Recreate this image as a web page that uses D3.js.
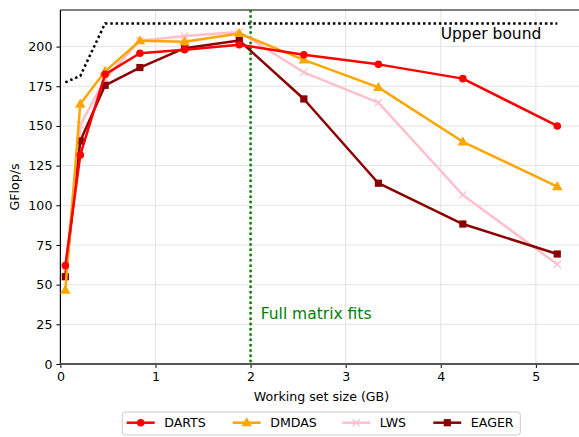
<!DOCTYPE html>
<html><head><meta charset="utf-8">
<script src="https://cdn.jsdelivr.net/npm/d3@7"></script>
<style>
body{margin:0;background:#fff;}
text{font-family:"DejaVu Sans",sans-serif;}
</style></head><body>
<svg id="c" width="579" height="437"></svg>
<script>
const sizesGB = [0.052, 0.209, 0.470, 0.836, 1.306, 1.881, 2.560, 3.344, 4.232, 5.225];
const darts = [62, 131.7, 182.5, 195.8, 198, 201.2, 194.8, 188.8, 179.8, 150];
const dmdas = [46.5, 163.8, 184.4, 203.7, 203, 208.3, 191.6, 174.3, 140, 111.8];
const lws   = [58, 150.5, 179.5, 203.7, 206.7, 209.2, 183.8, 164.7, 106.5, 62.8];
const eager = [55, 140.5, 175.6, 186.8, 199, 203.8, 167, 113.9, 88.2, 69.3];
const upperBound = [177.5, 181.5, 214.6, 214.6, 214.6, 214.6, 214.6, 214.6, 214.6, 214.6];
const xTicks = [0, 1, 2, 3, 4, 5];
const yTicks = [0, 25, 50, 75, 100, 125, 150, 175, 200];
const fitsAt = 2;
const seriesNames = ["DARTS", "DMDAS", "LWS", "EAGER"];

const series = [
  {name: seriesNames[0], vals: darts, color: "#ff0000", marker: "circle"},
  {name: seriesNames[1], vals: dmdas, color: "#ffa500", marker: "triangle"},
  {name: seriesNames[2], vals: lws,   color: "#ffc0cb", marker: "x"},
  {name: seriesNames[3], vals: eager, color: "#8b0000", marker: "square"}
];
const drawOrder = [2, 3, 1, 0];

const svg = d3.select("#c");
const L = 60.4, T = 10, B = 364;
const x = d3.scaleLinear().domain([0, 5.484]).range([L, 581.9]);
const y = d3.scaleLinear().domain([0, 223.05]).range([B, T]);
const FS = 12.6;

// grid
const g = svg.append("g");
g.selectAll(".gx").data(xTicks).enter().append("line")
  .attr("x1", d => x(d)).attr("x2", d => x(d)).attr("y1", T).attr("y2", B)
  .attr("stroke", "#e3e3e3").attr("stroke-width", 1);
g.selectAll(".gy").data(yTicks).enter().append("line")
  .attr("x1", L).attr("x2", 582).attr("y1", d => y(d)).attr("y2", d => y(d))
  .attr("stroke", "#e3e3e3").attr("stroke-width", 1);

// axes
const xAxis = d3.axisBottom(x).tickValues(xTicks).tickFormat(d3.format("d")).tickSize(4).tickPadding(4);
const yAxis = d3.axisLeft(y).tickValues(yTicks).tickFormat(d3.format("d")).tickSize(4).tickPadding(4);
const gx = svg.append("g").attr("transform", `translate(0,${B})`).call(xAxis);
const gy = svg.append("g").attr("transform", `translate(${L},0)`).call(yAxis);
[gx, gy].forEach(a => {
  a.select(".domain").remove();
  a.selectAll("text").attr("font-size", FS).attr("fill", "#000").attr("font-family", "DejaVu Sans");
  a.selectAll("line").attr("stroke", "#000");
});
// spines
svg.append("line").attr("x1", L).attr("x2", L).attr("y1", T).attr("y2", B).attr("stroke", "#000").attr("stroke-width", 1.2);
svg.append("line").attr("x1", L).attr("x2", 582).attr("y1", T).attr("y2", T).attr("stroke", "#000").attr("stroke-width", 1.2);
svg.append("line").attr("x1", L).attr("x2", 582).attr("y1", B).attr("y2", B).attr("stroke", "#555").attr("stroke-width", 2);

// upper bound
const line = d3.line().x((d, i) => x(sizesGB[i])).y(d => y(d));
svg.append("path").datum(upperBound).attr("d", line).attr("fill", "none")
  .attr("stroke", "#000").attr("stroke-width", 2.5).attr("stroke-dasharray", "2.5,2.8");
svg.append("text").attr("x", 440.7).attr("y", 38.5).attr("font-size", 15.5).attr("fill", "#000").text("Upper bound");

// fits line
svg.append("line").attr("x1", x(fitsAt)).attr("x2", x(fitsAt)).attr("y1", T).attr("y2", B)
  .attr("stroke", "#008000").attr("stroke-width", 2.5).attr("stroke-dasharray", "2.5,2.8");
svg.append("text").attr("x", 260.7).attr("y", 319.3).attr("font-size", 15.5).attr("fill", "#008000").text("Full matrix fits");

function drawMarker(sel, type, color, cx, cy) {
  if (type === "circle") {
    sel.append("circle").attr("cx", cx).attr("cy", cy).attr("r", 3.8).attr("fill", color);
  } else if (type === "square") {
    sel.append("rect").attr("x", cx - 3.6).attr("y", cy - 3.6).attr("width", 7.2).attr("height", 7.2).attr("fill", color);
  } else if (type === "triangle") {
    const s = d3.symbol().type(d3.symbolTriangle).size(48);
    sel.append("path").attr("d", s()).attr("transform", `translate(${cx},${cy + 0.6})`).attr("fill", color);
  } else if (type === "x") {
    const r = 3.6;
    sel.append("path").attr("d", `M${cx - r},${cy - r}L${cx + r},${cy + r}M${cx - r},${cy + r}L${cx + r},${cy - r}`)
      .attr("stroke", color).attr("stroke-width", 1.3).attr("fill", "none");
  }
}

drawOrder.forEach(k => {
  const s = series[k];
  const gs = svg.append("g");
  gs.append("path").datum(s.vals).attr("d", line).attr("fill", "none")
    .attr("stroke", s.color).attr("stroke-width", 2.5).attr("stroke-linejoin", "round");
  s.vals.forEach((v, i) => drawMarker(gs, s.marker, s.color, x(sizesGB[i]), y(v)));
});

// axis labels
svg.append("text").attr("x", 321.5).attr("y", 400.5).attr("text-anchor", "middle").attr("font-size", FS).text("Working set size (GB)");
svg.append("text").attr("transform", "translate(18.5,187) rotate(-90)").attr("text-anchor", "middle").attr("font-size", FS).text("GFlop/s");

// legend
const lg = svg.append("g");
lg.append("rect").attr("x", 122.3).attr("y", 412).attr("width", 398).attr("height", 23).attr("rx", 3)
  .attr("fill", "#fff").attr("fill-opacity", 0.8).attr("stroke", "#ccc").attr("stroke-width", 1);
const legendX = [126.7, 232.7, 342.3, 433.3];
series.forEach((s, i) => {
  const lx = legendX[i], ly = 422.7;
  lg.append("line").attr("x1", lx).attr("x2", lx + 28).attr("y1", ly).attr("y2", ly).attr("stroke", s.color).attr("stroke-width", 2.5);
  drawMarker(lg, s.marker, s.color, lx + 14, ly);
  lg.append("text").attr("x", lx + 37.5).attr("y", ly + 4.5).attr("font-size", FS).text(s.name);
});
</script>
</body></html>
